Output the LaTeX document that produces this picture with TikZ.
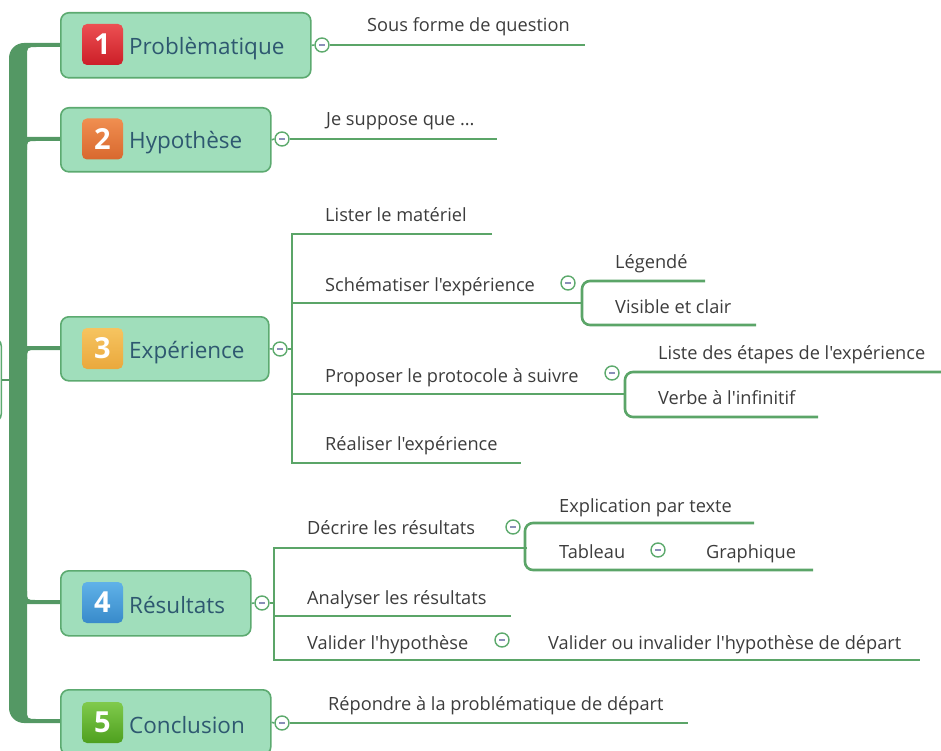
\documentclass[tikz,border=0pt]{standalone}
\usepackage{fontspec}
\setmainfont{Open Sans}[Ligatures=TeXOff]
\definecolor{trunk}{RGB}{84,152,100}
\definecolor{nodefill}{RGB}{160,222,187}
\definecolor{nodeborder}{RGB}{92,170,112}
\definecolor{brgreen}{RGB}{91,165,104}
\definecolor{colgreen}{RGB}{93,170,109}
\definecolor{colminus}{RGB}{138,143,184}
\definecolor{maintxt}{RGB}{46,88,112}
\definecolor{subtxt}{RGB}{60,60,60}
\begin{document}
\begin{tikzpicture}[x=1pt,y=-1pt]
\tikzset{
  mainbox/.style={draw=nodeborder, fill=nodefill, line width=1.6pt, rounded corners=8pt, inner sep=0pt, anchor=north west},
  badge/.style={rounded corners=5pt, minimum width=41pt, minimum height=41pt, inner sep=0pt, text=white, font=\fontsize{29}{30}\selectfont\bfseries},
  maintext/.style={anchor=base west, inner sep=0pt, text=maintxt, font=\fontsize{22.5}{26}\selectfont},
  leaf/.style={anchor=base west, inner sep=0pt, text=subtxt, font=\fontsize{18.2}{21}\selectfont},
  br/.style={draw=brgreen, line width=2.6pt},
  coll/.style={circle, draw=colgreen, fill=white, line width=1.4pt, minimum size=14pt, inner sep=0pt},
  stub/.style={draw=nodeborder, line width=1.6pt},
}
\clip (0,0) rectangle (941,751);
% root (mostly off picture)
\node[draw=nodeborder, line width=1.5pt, rounded corners=8pt, minimum width=80pt, minimum height=84pt, anchor=east] (root) at (2,380) {};
\draw[trunk, line width=1.6pt] (root.east) -- (9,380);
% trunk
\fill[trunk] (60,43) -- (24,43) .. controls (15.7,43) and (9,49.7) .. (9,58) -- (9,708)
  .. controls (9,716.3) and (15.7,723) .. (24,723) -- (60,723) -- (60,719) -- (37,719)
  .. controls (27,719) .. (27,709) -- (27,57) .. controls (27,47) .. (37,47) -- (60,47) -- cycle;
\fill[trunk] (26,137) -- (60,137) -- (60,141) -- (36,141) .. controls (27,141) .. (27,150) -- (26,150) -- cycle;
\fill[trunk] (26,346) -- (60,346) -- (60,350) -- (36,350) .. controls (27,350) .. (27,359) -- (26,359) -- cycle;
\fill[trunk] (26,604) -- (60,604) -- (60,600) -- (36,600) .. controls (27,600) .. (27,591) -- (26,591) -- cycle;
% main nodes
\node[mainbox, minimum width=250pt, minimum height=65pt] (n1) at (60,12) {};
\node[mainbox, minimum width=210pt, minimum height=64pt] (n2) at (60,107) {};
\node[mainbox, minimum width=208pt, minimum height=64pt] (n3) at (60,316) {};
\node[mainbox, minimum width=190pt, minimum height=65pt] (n4) at (60,570) {};
\node[mainbox, minimum width=210pt, minimum height=65pt] (n5) at (60,689) {};
% badges
\node[badge, top color={rgb,255:red,236;green,80;blue,82}, bottom color={rgb,255:red,204;green,30;blue,40}] (b1) at (102.5,44.5) {1};
\node[badge, top color={rgb,255:red,240;green,142;blue,80}, bottom color={rgb,255:red,216;green,104;blue,46}] (b2) at (102.5,139) {2};
\node[badge, top color={rgb,255:red,246;green,196;blue,96}, bottom color={rgb,255:red,234;green,168;blue,60}] (b3) at (102.5,348.5) {3};
\node[badge, top color={rgb,255:red,96;green,178;blue,232}, bottom color={rgb,255:red,56;green,138;blue,202}] (b4) at (102.5,602.5) {4};
\node[badge, top color={rgb,255:red,128;green,202;blue,76}, bottom color={rgb,255:red,78;green,160;blue,30}] (b5) at (102.5,722.5) {5};
% main texts
\node[maintext] (t1) at (129,55) {Problèmatique};
\node[maintext] (t2) at (129,149) {Hypothèse};
\node[maintext] (t3) at (129,358) {Expérience};
\node[maintext] (t4) at (129,613) {Résultats};
\node[maintext] (t5) at (129,733) {Conclusion};
% collapse circles
\node[coll] (c1) at (322,45) {};
\node[coll] (c2) at (282,139) {};
\node[coll] (c3) at (280,349) {};
\node[coll] (c4) at (262,603) {};
\node[coll] (c5) at (282,723) {};
\node[coll] (cS) at (568,283) {};
\node[coll] (cP) at (612,373) {};
\node[coll] (cD) at (513,527) {};
\node[coll] (cV) at (502,640) {};
\node[coll] (cT) at (658,550) {};
\foreach \c in {c1,c2,c3,c4,c5,cS,cP,cD,cV,cT}
  \draw[colminus, line width=1.6pt] ([xshift=-3pt]\c.center) -- ([xshift=3pt]\c.center);
\draw[stub] (n1.east) -- (c1.west);
\draw[stub] (n2.east) -- (c2.west);
\draw[stub] (n3.east) -- (c3.west);
\draw[stub] (n4.east) -- (c4.west);
\draw[stub] (n5.east) -- (c5.west);
% coordinates
\coordinate (e1) at (585,45);
\coordinate (e2) at (497,139);
\coordinate (e5) at (688,723);
\coordinate (k3) at (292,349);
\coordinate (k4) at (274,603);
\coordinate (eL) at (492,234);
\coordinate (eR) at (521,463);
\coordinate (eLe) at (705,281);
\coordinate (eVi) at (756,325);
\coordinate (eLi) at (941,372);
\coordinate (eVe) at (818,417);
\coordinate (eDe) at (527,548);
\coordinate (eEx) at (754,523);
\coordinate (eGr) at (813,570);
\coordinate (eAn) at (511,616);
\coordinate (eVa) at (920,660);
% branches 1, 2, 5
\draw[br] (c1.east) -- (e1);
\draw[br] (c2.east) -- (e2);
\draw[br] (c5.east) -- (e5);
% branch 3
\draw[br] (c3.east) -- (k3);
\draw[br] (eL) -- (292,234) -- (292,463) -- (eR);
\draw[br] (292,303) -- (582,303);
\draw[br] (292,394) -- (625,394);
\draw[br, rounded corners=8pt] (eLe) -- (582,281) -- (582,325) -- (eVi);
\draw[br, rounded corners=8pt] (eLi) -- (625,372) -- (625,417) -- (eVe);
% branch 4
\draw[br] (c4.east) -- (k4);
\draw[br] (eDe) -- (274,548) -- (274,660) -- (eVa);
\draw[br] (274,616) -- (eAn);
\draw[br, rounded corners=8pt] (eEx) -- (525,523) -- (525,570) -- (eGr);
% leaf texts
\node[leaf] (l1) at (367,32) {Sous forme de question};
\node[leaf] (l2) at (326,126) {Je suppose que ...};
\node[leaf] (l3a) at (325,222) {Lister le matériel};
\node[leaf] (l3b) at (325,291) {Schématiser l'expérience};
\node[leaf] (l3b1) at (615,268) {Légendé};
\node[leaf] (l3b2) at (615,313) {Visible et clair};
\node[leaf] (l3c) at (325,382) {Proposer le protocole à suivre};
\node[leaf] (l3c1) at (658,359) {Liste des étapes de l'expérience};
\node[leaf] (l3c2) at (658,404) {Verbe à l'infinitif};
\node[leaf] (l3d) at (325,450) {Réaliser l'expérience};
\node[leaf] (l4a) at (307,534) {Décrire les résultats};
\node[leaf] (l4a1) at (559,512) {Explication par texte};
\node[leaf] (l4a2) at (559,558) {Tableau};
\node[leaf] (l4a3) at (706,558) {Graphique};
\node[leaf] (l4b) at (307,604) {Analyser les résultats};
\node[leaf] (l4c) at (307,649) {Valider l'hypothèse};
\node[leaf] (l4c1) at (548,649) {Valider ou invalider l'hypothèse de départ};
\node[leaf] (l5) at (328,710) {Répondre à la problématique de départ};
\end{tikzpicture}
\end{document}
